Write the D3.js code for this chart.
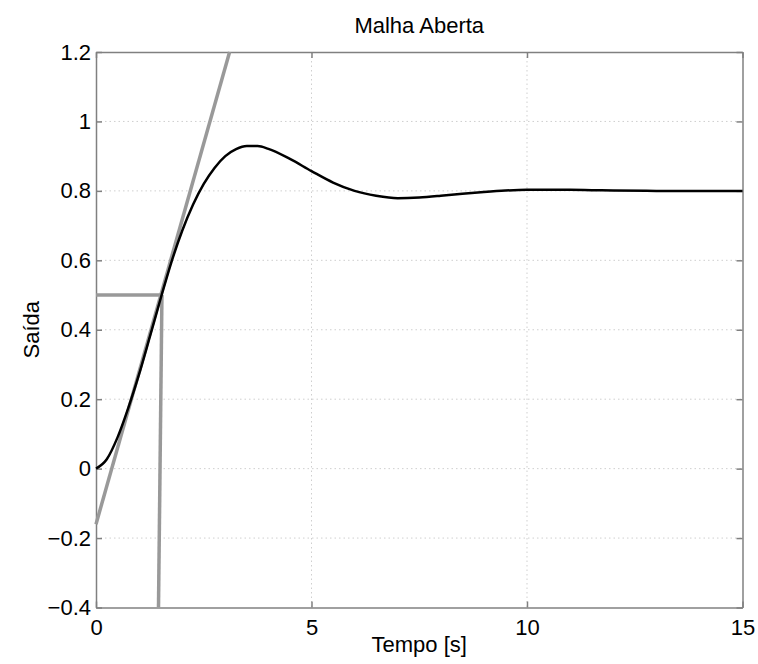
<!DOCTYPE html>
<html>
<head>
<meta charset="utf-8">
<script src="https://cdn.jsdelivr.net/npm/d3@7"></script>
<style>
    body { margin: 0; background: #fff; }
    text { font-family: "Liberation Sans", Arial, sans-serif; fill: #000; }
</style>
</head>
<body>
<svg></svg>
<script>
// response
const tempo = [0, 0.25, 0.5, 0.75, 1, 1.25, 1.5, 1.75, 2, 2.25, 2.5, 2.75, 3, 3.25, 3.5, 3.75, 4,
    4.5, 5, 5.5, 6, 6.5, 7, 7.5, 8, 8.5, 9, 9.5, 10, 10.5, 11, 11.5, 12, 13, 14, 15]
const saida = [0, 0.027, 0.09, 0.175, 0.272, 0.38, 0.49, 0.595, 0.685, 0.76, 0.82, 0.866, 0.9, 0.92, 0.929, 0.929, 0.921,
    0.892, 0.857, 0.824, 0.8, 0.786, 0.779, 0.781, 0.786, 0.792, 0.797, 0.801, 0.803, 0.803, 0.803, 0.802, 0.801, 0.80, 0.80, 0.80]

// construction lines (grey)
const tangente = [[0, -0.16], [3.1, 1.2]]
const horizontal = [[0, 0.5], [1.53, 0.5]]
const vertical = [[1.45, -0.4], [1.53, 0.5]]

const xTicks = [0, 5, 10, 15]
const yTicks = [-0.4, -0.2, 0, 0.2, 0.4, 0.6, 0.8, 1, 1.2]

const
    margin = { top: 52, right: 15.5, bottom: 56.5, left: 96 },
    width = 758,
    height = 664,
    fontSize = 22

const x = d3.scaleLinear()
    .domain([0, 15])
    .range([margin.left, width - margin.right])

const y = d3.scaleLinear()
    .domain([-0.4, 1.2])
    .range([height - margin.bottom, margin.top])

const svg = d3.select("svg")
    .attr("width", width)
    .attr("height", height)

const fmt = d3.format("~g")
const boxColor = "#808080"

// grid
svg.append("g")
    .selectAll("line")
    .data(xTicks.slice(1, -1))
    .join("line")
    .attr("x1", d => x(d)).attr("x2", d => x(d))
    .attr("y1", y(1.2)).attr("y2", y(-0.4))
    .attr("stroke", "#cfcfcf")
    .attr("stroke-dasharray", "1.5,3")

svg.append("g")
    .selectAll("line")
    .data(yTicks.slice(1, -1))
    .join("line")
    .attr("x1", x(0)).attr("x2", x(15))
    .attr("y1", d => y(d)).attr("y2", d => y(d))
    .attr("stroke", "#cfcfcf")
    .attr("stroke-dasharray", "1.5,3")

// axes, ticks pointing inward like MATLAB
const xAxis = g => g
    .attr("transform", `translate(0,${y(-0.4)})`)
    .call(d3.axisBottom(x).tickValues(xTicks).tickFormat(fmt).tickSizeInner(-6).tickSizeOuter(0).tickPadding(12))

const yAxis = g => g
    .attr("transform", `translate(${x(0)},0)`)
    .call(d3.axisLeft(y).tickValues(yTicks).tickFormat(fmt).tickSizeInner(-6).tickSizeOuter(0).tickPadding(5))

const xTop = g => g
    .attr("transform", `translate(0,${y(1.2)})`)
    .call(d3.axisTop(x).tickValues(xTicks).tickFormat("").tickSizeInner(-6).tickSizeOuter(0))

const yRight = g => g
    .attr("transform", `translate(${x(15)},0)`)
    .call(d3.axisRight(y).tickValues(yTicks).tickFormat("").tickSizeInner(-6).tickSizeOuter(0))

for (const ax of [xAxis, yAxis, xTop, yRight]) {
    svg.append("g")
        .call(ax)
        .call(g => g.selectAll("path, line").attr("stroke", boxColor).attr("stroke-width", 1.5))
        .call(g => g.selectAll("text").attr("font-size", fontSize).attr("fill", "#000"))
}

// lines
const line = d3.line()
    .x(d => x(d[0]))
    .y(d => y(d[1]))

for (const seg of [tangente, horizontal, vertical]) {
    svg.append("path")
        .datum(seg)
        .attr("d", line)
        .attr("fill", "none")
        .attr("stroke", "#999")
        .attr("stroke-width", 3.5)
}

const curve = d3.line()
    .x((d, i) => x(tempo[i]))
    .y(d => y(d))
    .curve(d3.curveMonotoneX)

svg.append("path")
    .datum(saida)
    .attr("d", curve)
    .attr("fill", "none")
    .attr("stroke", "#000")
    .attr("stroke-width", 2.5)

// labels
svg.append("text")
    .attr("x", (x(0) + x(15)) / 2)
    .attr("y", 33)
    .attr("text-anchor", "middle")
    .attr("font-size", fontSize)
    .text("Malha Aberta")

svg.append("text")
    .attr("x", (x(0) + x(15)) / 2)
    .attr("y", 652)
    .attr("text-anchor", "middle")
    .attr("font-size", fontSize)
    .text("Tempo [s]")

svg.append("text")
    .attr("transform", `translate(39,${(y(-0.4) + y(1.2)) / 2}) rotate(-90)`)
    .attr("text-anchor", "middle")
    .attr("font-size", fontSize)
    .text("Saída")
</script>
</body>
</html>
